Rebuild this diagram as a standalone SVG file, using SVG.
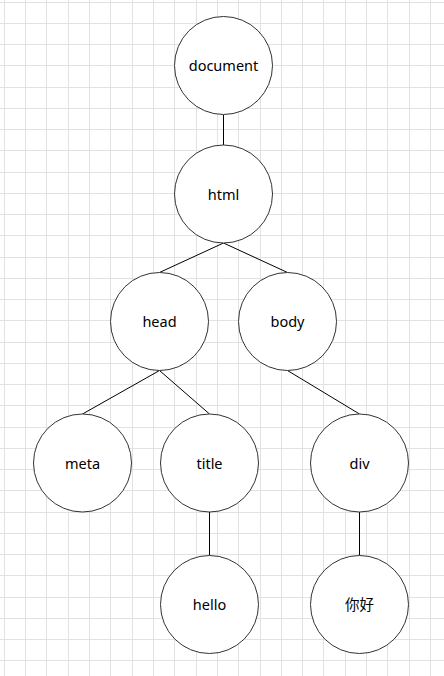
<svg xmlns="http://www.w3.org/2000/svg" width="444" height="676" viewBox="0 0 444 676">
<style>
.grid{stroke:#e2e2e2;stroke-width:1;fill:none}
.node circle{fill:#fff;stroke:#333;stroke-width:1}
.node text{font-family:"Noto Sans","Noto Sans CJK SC","DejaVu Sans",sans-serif;font-size:14.5px;fill:#000;text-anchor:middle}
.edge{stroke:#000;stroke-width:1;fill:none}
</style>
<rect width="444" height="676" fill="#fff"/>
<path class="grid" d="M4.5 0V676M25.5 0V676M46.5 0V676M68.5 0V676M89.5 0V676M110.5 0V676M132.5 0V676M153.5 0V676M174.5 0V676M196.5 0V676M217.5 0V676M238.5 0V676M260.5 0V676M281.5 0V676M302.5 0V676M323.5 0V676M345.5 0V676M366.5 0V676M387.5 0V676M409.5 0V676M430.5 0V676
M0 2.5H444M0 23.5H444M0 44.5H444M0 65.5H444M0 87.5H444M0 108.5H444M0 129.5H444M0 150.5H444M0 172.5H444M0 193.5H444M0 214.5H444M0 235.5H444M0 257.5H444M0 278.5H444M0 299.5H444M0 320.5H444M0 342.5H444M0 363.5H444M0 384.5H444M0 405.5H444M0 427.5H444M0 448.5H444M0 469.5H444M0 490.5H444M0 512.5H444M0 533.5H444M0 554.5H444M0 575.5H444M0 597.5H444M0 618.5H444M0 639.5H444M0 660.5H444"/>
<g id="connectors">
<line class="edge" x1="223.5" y1="114.5" x2="223.5" y2="145"/>
<line class="edge" x1="223.5" y1="243" x2="159.5" y2="272.5"/>
<line class="edge" x1="223.5" y1="243" x2="287.5" y2="272.5"/>
<line class="edge" x1="159.5" y1="370.5" x2="82.5" y2="414"/>
<line class="edge" x1="159.5" y1="370.5" x2="209.5" y2="414"/>
<line class="edge" x1="287.5" y1="370.5" x2="359.5" y2="414"/>
<line class="edge" x1="209.5" y1="512" x2="209.5" y2="555.5"/>
<line class="edge" x1="359.5" y1="512" x2="359.5" y2="555.5"/>
</g>
<g id="document" class="node"><circle cx="223.5" cy="65.5" r="49"/><text x="223.5" y="71">document</text></g>
<g id="html" class="node"><circle cx="223.5" cy="194" r="49"/><text x="223.5" y="199.5">html</text></g>
<g id="head" class="node"><circle cx="159.5" cy="321.5" r="49"/><text x="159.5" y="327">head</text></g>
<g id="body" class="node"><circle cx="287.5" cy="321.5" r="49"/><text x="287.5" y="327">body</text></g>
<g id="meta" class="node"><circle cx="82.5" cy="463" r="49"/><text x="82.5" y="468.5">meta</text></g>
<g id="title" class="node"><circle cx="209.5" cy="463" r="49"/><text x="209.5" y="468.5">title</text></g>
<g id="div" class="node"><circle cx="359.5" cy="463" r="49"/><text x="359.5" y="468.5">div</text></g>
<g id="hello" class="node"><circle cx="209.5" cy="604.5" r="49"/><text x="209.5" y="610">hello</text></g>
<g id="nihao" class="node"><circle cx="359.5" cy="604.5" r="49"/><text x="359.5" y="610">你好</text></g>
</svg>
